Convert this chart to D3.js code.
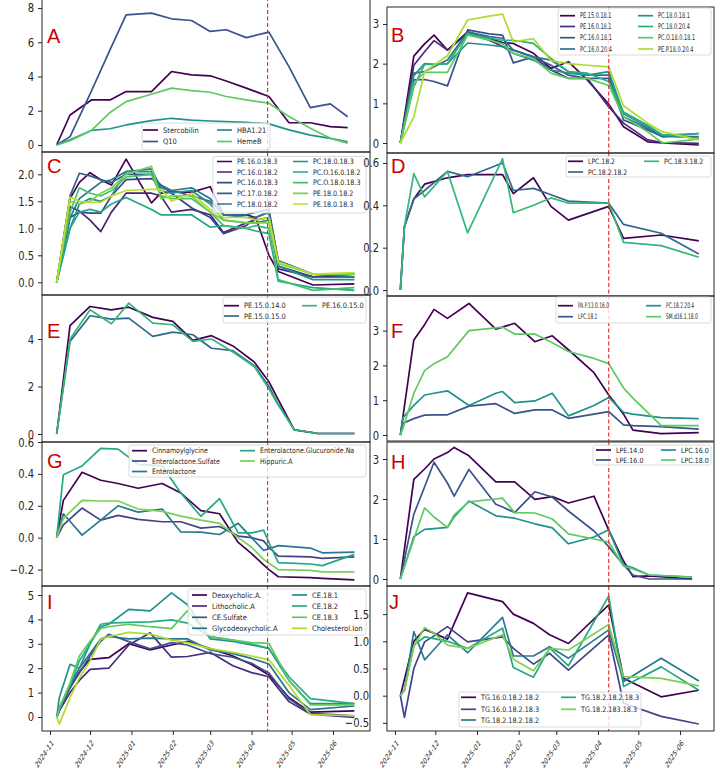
<!DOCTYPE html>
<html>
<head>
<meta charset="utf-8">
<script src="https://cdn.jsdelivr.net/npm/d3@7"></script>
<style>
  html, body { margin: 0; padding: 0; background: #fff; }
  svg { display: block; font-family: 'DejaVu Sans', sans-serif; }
</style>
</head>
<body>
<svg id="chart" width="722" height="773"></svg>
<script>
'use strict';

// ---------- data ----------

const namesA = ['Stercobilin', 'Q10', 'HBA1.21', 'HemeB'];
const datesA = ['2024-11-06','2024-11-16','2024-12-02','2024-12-16','2024-12-28','2025-01-16','2025-01-31','2025-02-15',
  '2025-03-01','2025-03-13','2025-03-28','2025-04-14','2025-04-29','2025-05-15','2025-05-30','2025-06-12'];
const valuesA = [
  [0, 1.75, 2.63, 2.63, 3.12, 3.12, 4.29, 4.09, 4.04, 3.74, 3.32, 2.83, 1.3, 1.3, 1.07, 1.01],
  [0, 0.49, 3.15, 5.57, 7.6, 7.7, 7.37, 7.27, 6.63, 6.73, 6.27, 6.59, 4.58, 2.18, 2.4, 1.65],
  [0, 0.3, 0.85, 0.95, 1.17, 1.42, 1.56, 1.45, 1.4, 1.36, 1.32, 1.23, 0.88, 0.58, 0.39, 0.19],
  [0, 0.25, 0.85, 1.9, 2.53, 2.96, 3.32, 3.18, 3.08, 2.83, 2.63, 2.44, 1.66, 0.98, 0.39, 0.1]
];

const namesB = ['PE.15.0.18.1', 'PE.16.0.18.1', 'PC.16.0.18.1', 'PC.16.0.20.4',
  'PC.18.0.18.1', 'PC.18.0.20.4', 'PC.O.18.0.18.1', 'PE.P.18.0.20.4'];
const datesB = ['2024-11-05','2024-11-15','2024-11-23','2024-11-30','2024-12-10','2024-12-25','2025-01-10','2025-01-20',
  '2025-01-28','2025-02-12','2025-02-25','2025-03-10','2025-03-24','2025-04-09','2025-04-20','2025-05-08','2025-05-19','2025-06-15'];
const valuesB = [
  [0, 2.19, 2.5, 2.72, 2.34, 2.8, 2.64, 2.53, 2.51, 2.26, 1.88, 2.05, 1.59, 0.98, 0.41, 0.03, 0.0, -0.05],
  [0, 1.96, 2.3, 2.58, 2.34, 2.76, 2.59, 2.43, 2.34, 2.17, 1.84, 1.63, 1.63, 0.91, 0.5, 0.08, 0.01, -0.01],
  [0, 1.59, 1.6, 1.55, 1.44, 2.85, 2.75, 2.72, 2.02, 2.17, 1.96, 1.71, 1.63, 1.63, 0.58, 0.33, 0.16, 0.24],
  [0, 1.76, 1.8, 1.92, 2.09, 2.8, 2.68, 2.64, 2.34, 2.17, 2.09, 1.8, 1.71, 1.71, 0.66, 0.37, 0.16, 0.16],
  [0, 1.7, 2.0, 1.98, 2.0, 2.52, 2.47, 2.43, 2.26, 2.09, 1.84, 1.76, 1.71, 1.8, 0.74, 0.41, 0.2, 0.12],
  [0, 1.42, 1.98, 1.98, 2.0, 2.76, 2.64, 2.59, 2.59, 2.51, 2.13, 1.8, 1.76, 1.55, 0.78, 0.45, 0.2, 0.24],
  [0, 1.5, 1.78, 1.78, 1.78, 2.72, 2.6, 2.5, 2.26, 2.13, 1.76, 1.63, 1.63, 1.45, 0.66, 0.28, 0.0, 0.1],
  [0, 0.66, 1.8, 1.96, 2.2, 3.1, 3.2, 3.25, 2.55, 2.63, 2.08, 2.0, 1.96, 1.92, 0.94, 0.5, 0.28, 0.08]
];

const namesC = ['PE.16.0.18.3', 'PC.16.0.18.2', 'PC.16.0.18.3', 'PC.17.0.18.2', 'PC.18.0.18.2',
  'PC.18.0.18.3', 'PC.O.16.0.18.2', 'PC.O.18.0.18.3', 'PE.18.0.18.2', 'PE.18.0.18.3'];
const datesC = ['2024-11-06','2024-11-16','2024-11-23','2024-12-01','2024-12-09','2024-12-17','2024-12-28','2025-01-16',
  '2025-01-23','2025-01-31','2025-02-15','2025-03-01','2025-03-11','2025-03-28','2025-04-04','2025-04-14','2025-04-21',
  '2025-05-17','2025-06-17'];
const valuesC = [
  [0, 1.55, 1.85, 2.03, 1.9, 1.8, 2.28, 1.47, 1.65, 1.67, 1.67, 1.77, 1.25, 1.25, 1.2, 0.5, 0.2, -0.05, -0.03],
  [0, 1.4, 1.32, 1.15, 0.94, 1.3, 1.65, 1.65, 1.6, 1.3, 1.35, 1.25, 0.92, 1.1, 1.15, 1.2, 0.25, 0.1, 0.1],
  [0, 1.2, 1.3, 1.28, 1.28, 1.6, 1.9, 1.92, 1.8, 1.65, 1.38, 1.2, 0.9, 1.05, 1.2, 1.3, 0.3, 0.1, 0.15],
  [0, 1.6, 2.02, 1.97, 1.9, 1.85, 2.0, 2.0, 1.8, 1.7, 1.6, 1.5, 1.25, 1.25, 1.3, 1.35, 0.4, 0.15, 0.15],
  [0, 1.2, 1.55, 1.7, 1.85, 1.9, 2.05, 2.1, 1.75, 1.7, 1.75, 1.55, 1.25, 1.2, 1.2, 1.3, 0.4, 0.15, 0.1],
  [0, 1.0, 1.45, 1.55, 1.5, 1.6, 2.05, 2.05, 1.7, 1.65, 1.7, 1.45, 1.15, 1.1, 1.1, 1.15, 0.3, 0.05, 0.05],
  [0, 1.0, 1.3, 1.35, 1.3, 1.45, 1.57, 1.35, 1.25, 1.25, 1.25, 1.02, 1.05, 1.0, 0.95, 0.9, 0.02, -0.1, -0.15],
  [0, 1.3, 1.75, 1.65, 1.6, 1.7, 1.95, 2.0, 1.6, 1.55, 1.55, 1.3, 1.05, 1.0, 1.05, 1.0, 0.05, -0.15, -0.1],
  [0, 1.5, 1.45, 1.5, 1.65, 1.75, 2.0, 2.15, 1.55, 1.6, 1.6, 1.3, 1.15, 1.1, 1.1, 1.1, 0.35, 0.15, 0.15],
  [0, 1.58, 1.5, 1.48, 1.48, 1.6, 1.7, 1.72, 1.72, 1.5, 1.65, 1.35, 1.2, 1.2, 1.15, 1.2, 0.38, 0.15, 0.18]
];

const namesD = ['LPC.18.2', 'PC.18.2.18.2', 'PC.18.3.18.2'];
const datesD = ['2024-11-05','2024-11-08','2024-11-15','2024-11-23','2024-12-10','2024-12-25','2025-01-20','2025-01-28',
  '2025-02-12','2025-02-25','2025-03-10','2025-04-09','2025-04-20','2025-05-18','2025-06-15'];
const valuesD = [
  [0, 0.3, 0.43, 0.5, 0.53, 0.545, 0.545, 0.455, 0.53, 0.395, 0.33, 0.395, 0.244, 0.26, 0.232],
  [0, 0.3, 0.43, 0.47, 0.56, 0.535, 0.6, 0.47, 0.48, 0.45, 0.42, 0.41, 0.31, 0.268, 0.17],
  [0, 0.3, 0.55, 0.44, 0.56, 0.27, 0.62, 0.365, 0.4, 0.435, 0.41, 0.41, 0.225, 0.21, 0.155]
];

const namesE = ['PE.15.0.14.0', 'PE.15.0.15.0', 'PE.16.0.15.0'];
const datesE = ['2024-11-06','2024-11-16','2024-12-01','2024-12-17','2024-12-30','2025-01-17','2025-02-01','2025-02-16',
  '2025-03-02','2025-03-18','2025-04-03','2025-04-14','2025-04-20','2025-05-03','2025-05-20','2025-06-17'];
const valuesE = [
  [0, 4.56, 5.37, 5.23, 5.34, 4.91, 4.74, 3.94, 4.14, 3.71, 3.03, 2.2, 1.55, 0.17, 0.03, 0.02],
  [0, 3.9, 4.98, 4.84, 4.88, 4.11, 4.29, 4.18, 3.61, 3.51, 2.88, 2.0, 1.35, 0.18, 0.03, 0.02],
  [0, 4.0, 5.23, 4.64, 5.51, 4.67, 4.6, 3.9, 4.0, 3.45, 2.84, 1.9, 1.3, 0.18, 0.03, 0.02]
];

const namesF = ['PA.P.13.0.16.0', 'LPC.18.1', 'PC.18.2.20.4', 'SM.d16.1.18.0'];
const datesF = ['2024-11-05','2024-11-07','2024-11-15','2024-11-23','2024-11-30','2024-12-10','2024-12-26','2025-01-15',
  '2025-01-20','2025-01-29','2025-02-13','2025-02-26','2025-03-10','2025-03-29','2025-04-09','2025-04-20','2025-04-27',
  '2025-05-18','2025-06-15'];
const valuesF = [
  [0, 0.55, 2.73, 3.17, 3.61, 3.35, 3.78, 3.04, 3.1, 3.21, 2.68, 2.85, 2.45, 1.79, 1.15, 0.6, 0.14, 0.04, 0.07],
  [0, 0.34, 0.47, 0.57, 0.58, 0.58, 0.83, 0.9, 0.8, 0.62, 0.72, 0.72, 0.48, 0.6, 0.67, 0.29, 0.27, 0.24, 0.17],
  [0, 0.5, 0.85, 1.15, 1.2, 1.27, 0.85, 1.2, 1.25, 0.93, 0.98, 1.2, 0.55, 0.85, 1.08, 0.65, 0.6, 0.5, 0.47],
  [0, 0.2, 1.2, 1.85, 2.05, 2.25, 3.0, 3.08, 3.1, 2.9, 2.9, 2.65, 2.4, 2.2, 2.05, 1.35, 1.06, 0.27, 0.27]
];

const namesG = ['Cinnamoylglycine', 'Enterolactone.Sulfate', 'Enterolactone',
  'Enterolactone.Glucuronide.Na', 'Hippuric.A'];
const datesG = ['2024-11-06','2024-11-11','2024-11-25','2024-12-09','2024-12-22','2025-01-06','2025-01-24','2025-02-07',
  '2025-02-22','2025-03-08','2025-03-22','2025-04-01','2025-04-10','2025-04-14','2025-04-21','2025-05-15','2025-05-24',
  '2025-06-17'];
const valuesG = [
  [0, 0.234, 0.41, 0.36, 0.34, 0.31, 0.34, 0.28, 0.17, 0.15, -0.03, -0.1, -0.17, -0.2, -0.245, -0.25, -0.255, -0.265],
  [0, 0.08, 0.186, 0.11, 0.14, 0.115, 0.1, 0.1, 0.06, 0.07, 0.01, 0.0, -0.02, -0.06, -0.116, -0.12, -0.13, -0.12],
  [0, 0.15, 0.016, 0.11, 0.2, 0.16, 0.18, 0.036, 0.035, 0.02, 0.09, 0.0, -0.08, -0.07, -0.05, -0.065, -0.095, -0.09],
  [0, 0.395, 0.45, 0.56, 0.555, 0.46, 0.45, 0.28, 0.134, 0.245, 0.03, 0.03, 0.047, -0.03, -0.157, -0.165, -0.175, -0.105],
  [0, 0.12, 0.234, 0.23, 0.23, 0.18, 0.165, 0.135, 0.11, 0.09, 0.0, -0.06, -0.136, -0.16, -0.2, -0.205, -0.215, -0.215]
];

const namesH = ['LPE.14.0', 'LPE.16.0', 'LPC.16.0', 'LPC.18.0'];
const datesH = ['2024-11-05','2024-11-15','2024-11-23','2024-11-30','2024-12-10','2024-12-15','2024-12-26','2025-01-15',
  '2025-01-20','2025-01-29','2025-02-13','2025-02-26','2025-03-10','2025-03-29','2025-04-09','2025-04-20','2025-04-27',
  '2025-05-09','2025-06-10'];
const valuesH = [
  [0, 2.49, 2.75, 3.0, 3.16, 3.29, 3.08, 2.43, 2.43, 2.43, 1.99, 2.06, 1.9, 2.07, 1.22, 0.45, 0.06, 0.08, 0.0],
  [0, 1.62, 2.3, 2.92, 2.4, 2.07, 2.74, 1.87, 1.8, 1.66, 2.18, 2.05, 1.7, 1.2, 0.81, 0.35, 0.1, 0.0, 0.0],
  [0, 1.06, 1.24, 1.26, 1.29, 1.55, 1.95, 1.58, 1.56, 1.52, 1.38, 1.28, 0.88, 1.05, 1.23, 0.35, 0.28, 0.1, 0.05],
  [0, 1.0, 1.78, 1.55, 1.29, 1.6, 1.93, 2.0, 2.02, 1.66, 1.65, 1.5, 1.13, 1.0, 0.92, 0.32, 0.25, 0.1, 0.05]
];

const namesI = ['Deoxycholic.A.', 'Lithocholic.A', 'CE.Sulfate', 'Glycodeoxycholic.A',
  'CE.18.1', 'CE.18.2', 'CE.18.3', 'Cholesterol.Ion'];
const datesI = ['2024-11-06','2024-11-08','2024-11-16','2024-11-23','2024-12-01','2024-12-09','2024-12-15','2024-12-30',
  '2025-01-15','2025-01-31','2025-02-12','2025-03-01','2025-03-18','2025-04-01','2025-04-14','2025-04-29','2025-05-15',
  '2025-06-17'];
const valuesI = [
  [0, 0.3, 1.2, 1.85, 2.36, 2.4, 2.43, 3.0, 2.75, 2.95, 3.1, 2.8, 2.5, 2.15, 1.72, 0.8, 0.2, 0.25],
  [0, 0.25, 1.0, 1.5, 1.95, 1.98, 2.0, 2.95, 3.45, 2.45, 2.48, 2.65, 2.1, 1.82, 1.65, 0.63, 0.12, -0.02],
  [0, 0.3, 1.2, 1.8, 2.5, 3.1, 3.39, 3.09, 2.79, 3.05, 2.95, 2.6, 2.45, 2.2, 1.8, 0.75, 0.15, 0.05],
  [0, 0.3, 1.3, 2.0, 2.6, 3.2, 3.3, 3.2, 3.23, 3.2, 3.2, 2.75, 2.6, 2.4, 2.17, 1.0, 0.3, 0.45],
  [0, 0.8, 2.16, 2.0, 3.0, 3.7, 3.8, 4.41, 4.35, 5.09, 4.6, 3.2, 3.1, 2.95, 2.81, 1.5, 0.55, 0.55],
  [0, 0.4, 1.3, 2.3, 3.0, 3.8, 3.85, 3.88, 3.9, 3.98, 3.85, 3.3, 3.15, 3.0, 2.8, 1.65, 0.75, 0.55],
  [0, 0.35, 1.4, 2.5, 3.1, 3.63, 3.7, 3.8, 3.7, 3.62, 4.36, 3.27, 3.15, 3.05, 3.02, 1.5, 0.5, 0.5],
  [0, -0.29, 0.8, 1.6, 2.3, 3.18, 3.3, 3.47, 3.4, 3.15, 3.05, 2.8, 2.65, 2.5, 2.35, 1.3, 0.1, 0.05]
];

const namesJ = ['TG.16.0.18.2.18.2', 'TG.16.0.18.2.18.3', 'TG.18.2.18.2.18.2',
  'TG.18.2.18.2.18.3', 'TG.18.2.183.18.3'];
const datesJ = ['2024-11-05','2024-11-08','2024-11-15','2024-11-23','2024-11-30','2024-12-10','2024-12-25','2025-01-20',
  '2025-01-28','2025-02-12','2025-02-24','2025-03-10','2025-04-09','2025-04-20','2025-05-18','2025-06-15'];
const valuesJ = [
  [0, 0.3, 1.0, 1.22, 1.15, 1.04, 1.89, 1.73, 1.5, 1.33, 1.12, 0.96, 1.67, 0.32, -0.02, 0.1],
  [0, -0.4, 0.5, 0.99, 1.1, 1.27, 0.99, 1.08, 0.87, 0.58, 0.78, 0.47, 1.12, -0.14, -0.38, -0.52],
  [0, 0.1, 1.18, 0.66, 0.85, 1.12, 0.79, 1.44, 0.73, 0.73, 0.9, 0.69, 1.21, 0.26, 0.69, 0.27],
  [0, 0.1, 0.93, 1.08, 1.05, 1.0, 0.87, 1.24, 0.52, 0.34, 0.88, 0.55, 1.83, 0.17, 0.53, 0.1],
  [0, 0.1, 0.9, 1.25, 1.15, 0.93, 0.87, 1.12, 0.67, 0.46, 0.87, 0.84, 1.31, 0.35, 0.32, 0.18]
];

// month ticks on the shared date axis, and the event marked by the dashed line
const monthTicks = ['2024-11-01','2024-12-01','2025-01-01','2025-02-01','2025-03-01','2025-04-01','2025-05-01','2025-06-01'];
const eventDates = ['2025-04-13', '2025-04-09'];

// ---------- layout ----------

const parseDate = d3.utcParse('%Y-%m-%d');
const svg = d3.select('#chart');

// two columns of panels, each with its own date scale
const columns = [
  { x0: 42, x1: 370, from: '2024-10-26T00:00Z', to: '2025-06-28T17:00Z' },
  { x0: 387, x1: 714, from: '2024-10-26T01:00Z', to: '2025-06-26T07:00Z' }
];
columns.forEach((c, i) => {
  c.x = d3.scaleUtc().domain([new Date(c.from), new Date(c.to)]).range([c.x0, c.x1]);
  c.event = parseDate(eventDates[i]);
});

const panels = [
  { key: 'A', col: 0, top: -3, bottom: 152, ylim: [-0.409, 8.642], ticks: [0, 2, 4, 6, 8], fmt: 'd',
    names: namesA, dates: datesA, values: valuesA, letter: [47, 43],
    legend: { x0: 142, x1: 270, y0: 123, y1: 150, rows: [130, 141.5], h1: 143, h2: 217, fs: 7.5, sx: 0.9 } },
  { key: 'C', col: 0, top: 152, bottom: 295, ylim: [-0.235, 2.413], ticks: [0, 0.5, 1, 1.5, 2], fmt: '.1f',
    names: namesC, dates: datesC, values: valuesC, letter: [47, 173],
    legend: { x0: 213, x1: 366, y0: 156.5, y1: 213, rows: [161.5, 172, 182.7, 193.3, 204], h1: 217, h2: 293, fs: 7.5, sx: 0.85 } },
  { key: 'E', col: 0, top: 295, bottom: 442, ylim: [-0.337, 5.853], ticks: [0, 2, 4], fmt: 'd',
    names: namesE, dates: datesE, values: valuesE, letter: [47, 338],
    legend: { x0: 223, x1: 366, y0: 297, y1: 323, rows: [305.7, 316], h1: 224, h2: 302, fs: 7.5, sx: 0.88 } },
  { key: 'G', col: 0, top: 442, bottom: 586, ylim: [-0.303, 0.6], ticks: [-0.2, 0, 0.2, 0.4, 0.6], fmt: '.1f',
    names: namesG, dates: datesG, values: valuesG, letter: [47, 468],
    legend: { x0: 129, x1: 366, y0: 445, y1: 477, rows: [450.7, 461, 471.5], h1: 132, h2: 240, fs: 7.5, sx: 0.84 } },
  { key: 'I', col: 0, top: 586, bottom: 731, ylim: [-0.574, 5.369], ticks: [0, 1, 2, 3, 4, 5], fmt: 'd',
    names: namesI, dates: datesI, values: valuesI, letter: [47, 609], xAxis: true,
    legend: { x0: 188, x1: 366, y0: 589, y1: 635, rows: [595, 606, 617.3, 628.3], h1: 192, h2: 292, fs: 7.5, sx: 0.9 } },
  { key: 'B', col: 1, top: 7, bottom: 153, ylim: [-0.252, 3.428], ticks: [0, 1, 2, 3], fmt: 'd',
    names: namesB, dates: datesB, values: valuesB, letter: [391, 42],
    legend: { x0: 558, x1: 711, y0: 8, y1: 55, rows: [15.7, 26.5, 37.7, 49], h1: 560, h2: 638, fs: 7.8, sx: 0.64 } },
  { key: 'D', col: 1, top: 153, bottom: 296, ylim: [-0.028, 0.647], ticks: [0, 0.2, 0.4, 0.6], fmt: '.1f',
    names: namesD, dates: datesD, values: valuesD, letter: [391, 173],
    legend: { x0: 566, x1: 711, y0: 156, y1: 177, rows: [161.3, 172], h1: 568, h2: 644, fs: 7.5, sx: 0.82 } },
  { key: 'F', col: 1, top: 296, bottom: 441, ylim: [-0.172, 3.994], ticks: [0, 1, 2, 3], fmt: 'd',
    names: namesF, dates: datesF, values: valuesF, letter: [391, 338],
    legend: { x0: 556, x1: 711, y0: 297, y1: 323, rows: [305.7, 316.7], h1: 558, h2: 646, fs: 7.6, sx: 0.58 } },
  { key: 'H', col: 1, top: 442, bottom: 586, ylim: [-0.175, 3.425], ticks: [0, 1, 2, 3], fmt: 'd',
    names: namesH, dates: datesH, values: valuesH, letter: [391, 469],
    legend: { x0: 593, x1: 711, y0: 445, y1: 465, rows: [450, 460], h1: 596, h2: 661, fs: 7.2, sx: 0.88 } },
  { key: 'J', col: 1, top: 586, bottom: 731, ylim: [-0.649, 2.017], ticks: [-0.5, 0, 0.5, 1, 1.5], fmt: '.1f',
    names: namesJ, dates: datesJ, values: valuesJ, letter: [389, 609], xAxis: true, labelGap: 18,
    legend: { x0: 459, x1: 641, y0: 692, y1: 727, rows: [697.3, 709.3, 720], h1: 461, h2: 561, fs: 7.5, sx: 0.86 } }
];

const ink = '#262626';
const defs = svg.append('defs');

function drawPanel(p) {
  const col = columns[p.col];
  const x = col.x;
  const y = d3.scaleLinear().domain(p.ylim).range([p.bottom, p.top]);
  const n = p.names.length;
  const colors = p.names.map((d, i) => d3.interpolateViridis(i / n));
  const dates = p.dates.map(parseDate);

  const g = svg.append('g').attr('class', 'panel-' + p.key);

  // clip lines to the axes box
  defs.append('clipPath').attr('id', 'clip' + p.key)
    .append('rect')
    .attr('x', col.x0).attr('y', p.top)
    .attr('width', col.x1 - col.x0).attr('height', p.bottom - p.top);

  const plot = g.append('g').attr('clip-path', `url(#clip${p.key})`);

  const line = d3.line()
    .x((d, i) => x(dates[i]))
    .y(d => y(d));

  plot.selectAll('path.series')
    .data(p.values)
    .join('path')
    .attr('class', 'series')
    .attr('d', line)
    .attr('fill', 'none')
    .attr('stroke', (d, i) => colors[i])
    .attr('stroke-width', 1.7)
    .attr('stroke-linejoin', 'round');

  // red dashed event line
  plot.append('line')
    .attr('x1', x(col.event)).attr('x2', x(col.event))
    .attr('y1', p.top).attr('y2', p.bottom)
    .attr('stroke', '#e32222')
    .attr('stroke-width', 1.1)
    .attr('stroke-dasharray', '4,2.5');

  // axes frame
  g.append('rect')
    .attr('x', col.x0).attr('y', p.top)
    .attr('width', col.x1 - col.x0).attr('height', p.bottom - p.top)
    .attr('fill', 'none').attr('stroke', ink).attr('stroke-width', 1);

  // y axis
  const gap = p.labelGap || 8;
  const sx = 0.8;
  const yAxis = g.append('g')
    .attr('transform', `translate(${col.x0},0)`)
    .call(d3.axisLeft(y).tickValues(p.ticks).tickSize(4).tickPadding(4).tickFormat(d3.format(p.fmt)));
  yAxis.select('.domain').remove();
  yAxis.selectAll('line').attr('stroke', ink);
  yAxis.selectAll('text')
    .attr('fill', ink)
    .style('font-size', '12.5px')
    .style('font-family', 'DejaVu Sans')
    .attr('x', -gap / sx)
    .attr('transform', `scale(${sx},1)`);

  // x axis only on the bottom row
  if (p.xAxis) {
    const xAxis = g.append('g')
      .attr('transform', `translate(0,${p.bottom})`)
      .call(d3.axisBottom(x).tickValues(monthTicks.map(parseDate)).tickSize(4).tickFormat(d3.utcFormat('%Y-%m')));
    xAxis.select('.domain').remove();
    xAxis.selectAll('line').attr('stroke', ink);
    xAxis.selectAll('text')
      .attr('fill', ink)
      .style('font-size', '8.5px')
      .style('font-family', 'DejaVu Sans')
      .attr('text-anchor', 'end')
      .attr('x', null).attr('y', null).attr('dy', '0.25em')
      .attr('transform', 'translate(2.5,11) scale(0.66,1) rotate(-45)');
  }

  // legend (two columns, filled column by column)
  const L = p.legend;
  const nrows = L.rows.length;
  const lg = g.append('g');
  lg.append('rect')
    .attr('x', L.x0).attr('y', L.y0)
    .attr('width', L.x1 - L.x0).attr('height', L.y1 - L.y0)
    .attr('rx', 2)
    .attr('fill', '#fff').attr('fill-opacity', 0.8)
    .attr('stroke', '#d0d0d0').attr('stroke-width', 0.8);
  defs.append('clipPath').attr('id', 'lclip' + p.key)
    .append('rect')
    .attr('x', L.x0).attr('y', L.y0)
    .attr('width', L.x1 - L.x0 - 1).attr('height', L.y1 - L.y0);
  const items = lg.append('g').attr('clip-path', `url(#lclip${p.key})`)
    .selectAll('g')
    .data(p.names)
    .join('g')
    .attr('transform', (d, i) => {
      const c = Math.floor(i / nrows);
      return `translate(${c === 0 ? L.h1 : L.h2},${L.rows[i % nrows]})`;
    });
  items.append('line')
    .attr('x1', 0).attr('x2', 15)
    .attr('stroke', (d, i) => colors[i])
    .attr('stroke-width', 1.7);
  items.append('text')
    .attr('transform', `translate(20,0) scale(${L.sx},1)`)
    .attr('dy', '0.35em')
    .attr('fill', ink)
    .style('font-size', L.fs + 'px')
    .text(d => d);

  // panel letter
  g.append('text')
    .attr('x', p.letter[0]).attr('y', p.letter[1])
    .attr('fill', '#cc0000')
    .style('font-family', 'Liberation Sans, Arial, sans-serif')
    .style('font-size', '20px')
    .text(p.key);
}

panels.forEach(drawPanel);
</script>
</body>
</html>
